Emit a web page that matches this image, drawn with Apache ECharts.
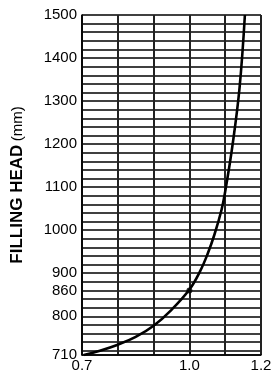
<!DOCTYPE html>
<html>
<head>
<meta charset="utf-8">
<script src="https://cdn.jsdelivr.net/npm/echarts@6/dist/echarts.min.js"></script>
<style>
  html, body {margin: 0; padding: 0; background: #fff;}
  #chart {width: 279px; height: 377px;}
</style>
</head>
<body>
<div id="chart"></div>
<script>
  // curve: flow ratio (x) vs filling head in mm (y)
  var ratio = [0.705, 0.75, 0.80, 0.85, 0.90, 0.95, 1.00, 1.03, 1.05, 1.07, 1.09, 1.10, 1.12, 1.14, 1.155];
  var head  = [710,   720,  734,  752,  778,  815,  862,  905,  943,  990,  1048, 1090, 1195, 1330, 1500];
  var marked = [[1.0, 860]];

  var yLabels = [710, 800, 860, 900, 1000, 1100, 1200, 1300, 1400, 1500];
  var xLabels = ['0.7', '1.0', '1.2'];
  // horizontal rulings every 20 mm
  var yGrid = [710];
  for (var v = 720; v <= 1500; v += 20) yGrid.push(v);

  var curve = ratio.map(function (x, i) { return [x, head[i]]; });

  var chart = echarts.init(document.getElementById('chart'));
  chart.setOption({
    animation: false,
    grid: {left: 82, right: 18, top: 15, bottom: 22},
    xAxis: {
      type: 'value', min: 0.7, max: 1.2, interval: 0.1,
      axisLine: {lineStyle: {color: '#000', width: 1.5}},
      axisTick: {show: false},
      axisLabel: {
        color: '#000', fontFamily: 'Liberation Sans', fontSize: 15, margin: 3,
        showMinLabel: true, showMaxLabel: true,
        formatter: function (val) {
          var s = val.toFixed(1);
          return xLabels.indexOf(s) >= 0 ? s : '';
        }
      },
      splitLine: {show: true, lineStyle: {color: '#222', width: 2}}
    },
    yAxis: {
      type: 'value', min: 710, max: 1500,
      name: '{b|FILLING HEAD} {n|(mm)}',
      nameLocation: 'middle', nameRotate: 90, nameGap: 56,
      nameTextStyle: {
        rich: {
          b: {fontFamily: 'Liberation Sans', fontWeight: 'bold', fontSize: 17, color: '#000'},
          n: {fontFamily: 'Liberation Sans', fontSize: 15, color: '#000'}
        }
      },
      axisLine: {show: true, lineStyle: {color: '#000', width: 1.5}},
      axisTick: {show: false, customValues: yGrid},
      axisLabel: {
        color: '#000', fontFamily: 'Liberation Sans', fontSize: 15, margin: 5,
        customValues: yLabels,
        formatter: function (val) { return String(val); }
      },
      splitLine: {show: true, lineStyle: {color: '#000', width: 1.6}}
    },
    series: [
      {
        type: 'line', data: curve, smooth: 0.4, showSymbol: false,
        lineStyle: {color: '#000', width: 2.6}, z: 5
      },
      {
        type: 'scatter', data: marked, symbolSize: 6,
        itemStyle: {color: '#000'}, z: 6
      }
    ]
  });
</script>
</body>
</html>
